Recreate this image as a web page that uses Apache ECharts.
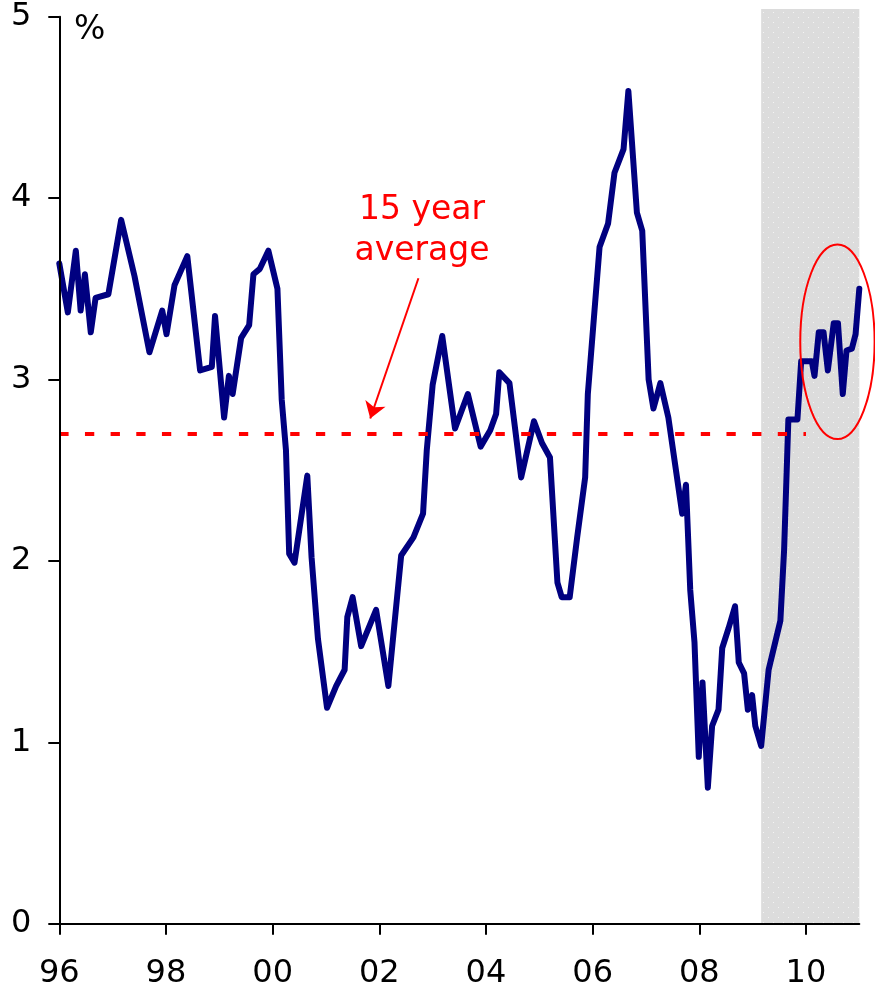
<!DOCTYPE html>
<html>
<head>
<meta charset="utf-8">
<script src="https://cdn.jsdelivr.net/npm/echarts@6/dist/echarts.min.js"></script>
<style>
  html, body { margin: 0; padding: 0; background: #ffffff; }
  #chart { width: 875px; height: 992px; }
</style>
</head>
<body>
<div id="chart"></div>
<script>
// Observation dates (decimal years)
const years = [
  1996.00, 1996.16, 1996.31, 1996.40, 1996.48, 1996.59, 1996.68, 1996.92,
  1997.16, 1997.41, 1997.69, 1997.93, 1998.01, 1998.16, 1998.40, 1998.64,
  1998.86, 1998.92, 1999.09, 1999.18, 1999.25, 1999.41, 1999.56, 1999.64,
  1999.76, 1999.92, 2000.09, 2000.17, 2000.25, 2000.31, 2000.41, 2000.65,
  2000.73, 2000.85, 2001.02, 2001.19, 2001.35, 2001.40, 2001.50, 2001.66,
  2001.94, 2002.17, 2002.41, 2002.64, 2002.82, 2002.89, 2003.00, 2003.18,
  2003.42, 2003.66, 2003.90, 2004.08, 2004.19, 2004.25, 2004.44, 2004.66,
  2004.90, 2005.05, 2005.20, 2005.34, 2005.42, 2005.57, 2005.71, 2005.86,
  2005.91, 2006.13, 2006.29, 2006.41, 2006.58, 2006.67, 2006.83, 2006.93,
  2007.05, 2007.14, 2007.27, 2007.42, 2007.68, 2007.75, 2007.83, 2007.91,
  2007.99, 2008.06, 2008.16, 2008.24, 2008.36, 2008.43, 2008.55, 2008.67,
  2008.74, 2008.84, 2008.91, 2008.99, 2009.05, 2009.16, 2009.30, 2009.52,
  2009.59, 2009.67, 2009.84, 2009.91, 2010.11, 2010.16, 2010.24, 2010.33,
  2010.41, 2010.52, 2010.60, 2010.69, 2010.76, 2010.86, 2010.93, 2011.00
];

// Rate, %
const rates = [
  3.64, 3.37, 3.71, 3.38, 3.58, 3.26, 3.45, 3.47,
  3.88, 3.57, 3.15, 3.38, 3.25, 3.52, 3.68, 3.05,
  3.07, 3.35, 2.79, 3.02, 2.92, 3.23, 3.30, 3.58,
  3.61, 3.71, 3.50, 2.89, 2.61, 2.04, 1.99, 2.47,
  2.02, 1.57, 1.19, 1.31, 1.40, 1.69, 1.80, 1.53,
  1.73, 1.31, 2.03, 2.13, 2.26, 2.61, 2.97, 3.24,
  2.73, 2.92, 2.63, 2.72, 2.81, 3.04, 2.98, 2.46,
  2.77, 2.65, 2.57, 1.88, 1.80, 1.80, 2.13, 2.46,
  2.92, 3.73, 3.86, 4.14, 4.27, 4.59, 3.92, 3.82,
  3.00, 2.84, 2.98, 2.79, 2.26, 2.42, 1.84, 1.55,
  0.92, 1.33, 0.75, 1.09, 1.18, 1.52, 1.63, 1.75,
  1.44, 1.38, 1.18, 1.26, 1.09, 0.98, 1.40, 1.67,
  2.06, 2.78, 2.78, 3.10, 3.10, 3.02, 3.26, 3.26,
  3.05, 3.31, 3.31, 2.92, 3.16, 3.17, 3.25, 3.50
];

// Axis ticks
const xTickYears = [1996, 1998, 2000, 2002, 2004, 2006, 2008, 2010];
const yTickValues = [0, 1, 2, 3, 4, 5];

// Reference level and shaded period
const averageRate = 2.7;
const averageSpan = [1996, 2010];
const shadeSpan = [2009.16, 2011];
const shadeTop = 5.042;

const FONT = '"DejaVu Sans", Verdana, sans-serif';
const RED = '#ff0000';
const NAVY = '#000080';

function makeShadePattern() {
  const c = document.createElement('canvas');
  c.width = 10; c.height = 10;
  const g = c.getContext('2d');
  g.fillStyle = '#dcdcdc';
  g.fillRect(0, 0, 10, 10);
  g.fillStyle = '#f4f4f4';
  g.fillRect(3, 2, 1, 1);
  g.fillRect(8, 7, 1, 1);
  return c;
}

const chart = echarts.init(document.getElementById('chart'), null, { renderer: 'canvas' });

const lineData = years.map((y, i) => [y, rates[i]]);

chart.setOption({
  animation: false,
  backgroundColor: '#ffffff',
  grid: { left: 59.3, right: 15.7, top: 16.7, bottom: 68.3, containLabel: false },
  xAxis: {
    type: 'value',
    min: 1996,
    max: 2011,
    interval: 2,
    z: 10,
    axisLine: { show: true, onZero: false, lineStyle: { color: '#000000', width: 2 } },
    axisTick: { show: true, length: 11, customValues: xTickYears, lineStyle: { color: '#000000', width: 2 } },
    axisLabel: {
      customValues: xTickYears,
      formatter: v => String(Math.round(v) % 100).padStart(2, '0'),
      color: '#000000', fontSize: 32, fontFamily: FONT, margin: 34
    },
    splitLine: { show: false }
  },
  yAxis: {
    type: 'value',
    min: 0,
    max: 5,
    interval: 1,
    z: 10,
    axisLine: { show: true, lineStyle: { color: '#000000', width: 2 } },
    axisTick: { show: true, length: 11, customValues: yTickValues, lineStyle: { color: '#000000', width: 2 } },
    axisLabel: {
      customValues: yTickValues,
      color: '#000000', fontSize: 32, fontFamily: FONT, margin: 28,
      padding: [8, 0, 0, 0]
    },
    splitLine: { show: false }
  },
  series: [
    {
      name: 'rate',
      type: 'line',
      data: lineData,
      showSymbol: false,
      symbol: 'none',
      z: 3,
      lineStyle: { color: NAVY, width: 6, join: 'round', cap: 'round' }
    },
    {
      name: 'average',
      type: 'line',
      data: [],
      silent: true,
      z: 4,
      markLine: {
        silent: true,
        symbol: 'none',
        label: { show: false },
        lineStyle: { color: RED, width: 4, type: [9.3, 16.36] },
        data: [[{ coord: [averageSpan[0], averageRate] }, { coord: [averageSpan[1], averageRate] }]]
      }
    },
    {
      name: 'pointer',
      type: 'line',
      data: [],
      silent: true,
      z: 5,
      markLine: {
        silent: true,
        symbol: ['none', 'arrow'],
        symbolSize: 16,
        label: { show: false },
        lineStyle: { color: RED, width: 2, type: 'solid' },
        data: [[{ coord: [2002.734, 3.558] }, { coord: [2001.83, 2.785] }]]
      }
    }
  ]
});

// Shaded period and annotations, placed in data coordinates
const px = (x, y) => chart.convertToPixel({ gridIndex: 0 }, [x, y]);
const s0 = px(shadeSpan[0], shadeTop);
const s1 = px(shadeSpan[1], 0);
const ec = px(2010.59, 3.208);
const ee = px(2010.59 + 0.697, 3.208 - 0.536);
const t1 = px(2002.80, 3.931);
const t2 = px(2002.80, 3.705);
const pct = px(1996.276, 4.924);

chart.setOption({
  graphic: [
    {
      type: 'rect',
      z: -10,
      silent: true,
      shape: { x: s0[0], y: s0[1], width: s1[0] - s0[0], height: s1[1] - s0[1] },
      style: { fill: { image: makeShadePattern(), repeat: 'repeat' } }
    },
    {
      type: 'ellipse',
      z: 100,
      silent: true,
      shape: { cx: ec[0], cy: ec[1], rx: ee[0] - ec[0], ry: ee[1] - ec[1] },
      style: { fill: 'none', stroke: RED, lineWidth: 2 }
    },
    {
      type: 'text', z: 100, silent: true,
      style: { text: '15 year', x: t1[0], y: t1[1], fill: RED, fontSize: 33, fontFamily: FONT,
               textAlign: 'center', textVerticalAlign: 'middle' }
    },
    {
      type: 'text', z: 100, silent: true,
      style: { text: 'average', x: t2[0], y: t2[1], fill: RED, fontSize: 33, fontFamily: FONT,
               textAlign: 'center', textVerticalAlign: 'middle' }
    },
    {
      type: 'text', z: 100, silent: true,
      style: { text: '%', x: pct[0], y: pct[1], fill: '#000000', fontSize: 33, fontFamily: FONT,
               textAlign: 'left', textVerticalAlign: 'middle' }
    }
  ]
});
</script>
</body>
</html>
